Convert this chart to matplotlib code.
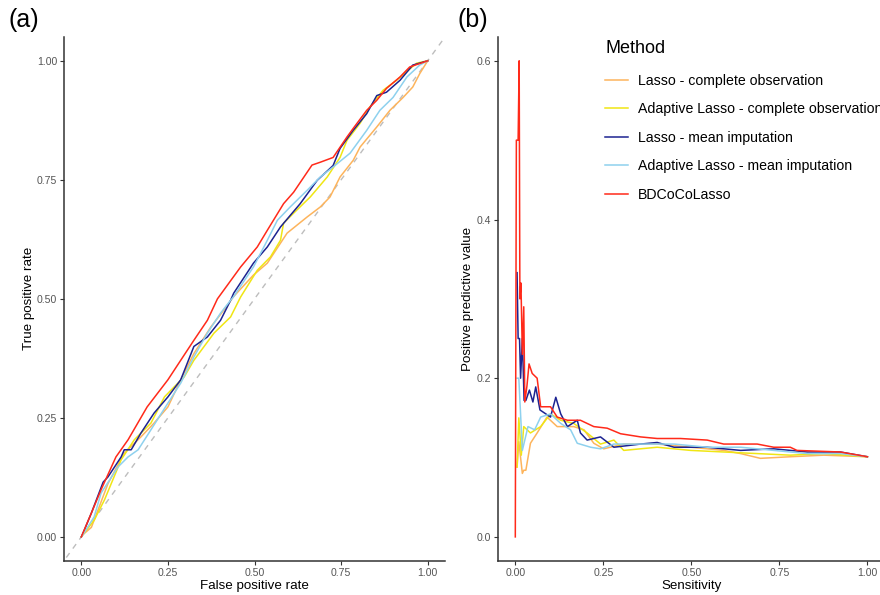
import matplotlib
matplotlib.use("Agg")
import matplotlib.pyplot as plt
import numpy as np

plt.rcParams['font.family'] = ['Liberation Sans', 'DejaVu Sans']

methods = ["Lasso - complete observation",
           "Adaptive Lasso - complete observation",
           "Lasso - mean imputation",
           "Adaptive Lasso - mean imputation",
           "BDCoCoLasso"]
colors = ["#FDB45C", "#F0E614", "#1C2391", "#8ED1EE", "#FF2A1A"]

# ROC curves (FPR, TPR)
roc_lasso_cc_x = [0, 0.005, 0.029, 0.048, 0.077, 0.124, 0.172, 0.21, 0.25, 0.287, 0.325, 0.374, 0.411, 0.44, 0.497, 0.537, 0.594, 0.652, 0.69, 0.718, 0.747, 0.785, 0.805, 0.853, 0.891, 0.929, 0.957, 0.977, 1.0]
roc_lasso_cc_y = [0, 0.005, 0.02, 0.056, 0.112, 0.176, 0.21, 0.239, 0.273, 0.33, 0.385, 0.441, 0.476, 0.505, 0.55, 0.575, 0.638, 0.672, 0.693, 0.714, 0.756, 0.791, 0.819, 0.861, 0.896, 0.923, 0.945, 0.973, 1.0]

roc_alasso_cc_x = [0, 0.005, 0.037, 0.067, 0.115, 0.153, 0.201, 0.24, 0.268, 0.297, 0.325, 0.383, 0.431, 0.451, 0.46, 0.508, 0.546, 0.575, 0.584, 0.613, 0.661, 0.71, 0.747, 0.767, 0.805, 0.833, 0.871, 0.91, 0.968, 1.0]
roc_alasso_cc_y = [0, 0.005, 0.035, 0.078, 0.162, 0.204, 0.239, 0.294, 0.315, 0.336, 0.371, 0.428, 0.462, 0.491, 0.504, 0.56, 0.588, 0.623, 0.659, 0.68, 0.714, 0.756, 0.797, 0.833, 0.869, 0.903, 0.938, 0.959, 0.995, 1.0]

roc_lasso_mi_x = [0, 0.005, 0.029, 0.063, 0.077, 0.115, 0.124, 0.144, 0.172, 0.21, 0.25, 0.287, 0.325, 0.364, 0.402, 0.431, 0.44, 0.497, 0.537, 0.575, 0.632, 0.681, 0.727, 0.747, 0.785, 0.824, 0.853, 0.881, 0.92, 0.957, 1.0]
roc_lasso_mi_y = [0, 0.008, 0.05, 0.115, 0.126, 0.168, 0.183, 0.183, 0.218, 0.26, 0.294, 0.33, 0.4, 0.42, 0.455, 0.497, 0.512, 0.575, 0.609, 0.651, 0.70, 0.749, 0.78, 0.816, 0.854, 0.889, 0.927, 0.934, 0.959, 0.991, 1.0]

roc_alasso_mi_x = [0, 0.005, 0.037, 0.057, 0.106, 0.135, 0.164, 0.201, 0.25, 0.287, 0.325, 0.364, 0.402, 0.431, 0.44, 0.497, 0.537, 0.566, 0.603, 0.652, 0.69, 0.727, 0.776, 0.824, 0.862, 0.90, 0.94, 0.977, 1.0]
roc_alasso_mi_y = [0, 0.005, 0.042, 0.092, 0.147, 0.168, 0.183, 0.225, 0.281, 0.323, 0.378, 0.428, 0.47, 0.497, 0.505, 0.567, 0.623, 0.665, 0.693, 0.728, 0.756, 0.777, 0.806, 0.854, 0.896, 0.923, 0.966, 0.991, 1.0]

roc_bdcoco_x = [0, 0.029, 0.057, 0.10, 0.135, 0.19, 0.25, 0.287, 0.325, 0.364, 0.393, 0.46, 0.508, 0.537, 0.584, 0.613, 0.666, 0.69, 0.727, 0.767, 0.785, 0.824, 0.853, 0.881, 0.92, 0.948, 1.0]
roc_bdcoco_y = [0, 0.05, 0.099, 0.168, 0.204, 0.273, 0.33, 0.371, 0.413, 0.455, 0.50, 0.567, 0.609, 0.644, 0.70, 0.724, 0.781, 0.787, 0.797, 0.84, 0.858, 0.896, 0.917, 0.942, 0.966, 0.987, 1.0]

# Precision-recall curves (Sensitivity, PPV)
pr_lasso_cc_x = [0.005, 0.01, 0.02, 0.024, 0.03, 0.043, 0.062, 0.09, 0.119, 0.166, 0.195, 0.223, 0.251, 0.308, 0.403, 0.498, 0.592, 0.64, 0.696, 0.781, 0.876, 1.0]
pr_lasso_cc_y = [0.088, 0.12, 0.08, 0.084, 0.084, 0.118, 0.131, 0.151, 0.139, 0.139, 0.135, 0.118, 0.111, 0.117, 0.117, 0.113, 0.109, 0.105, 0.099, 0.101, 0.103, 0.101]

pr_alasso_cc_x = [0.005, 0.01, 0.017, 0.024, 0.043, 0.072, 0.1, 0.129, 0.166, 0.204, 0.242, 0.28, 0.308, 0.403, 0.498, 0.592, 0.687, 0.781, 0.876, 1.0]
pr_alasso_cc_y = [0.088, 0.15, 0.103, 0.139, 0.131, 0.139, 0.155, 0.147, 0.143, 0.131, 0.117, 0.122, 0.109, 0.113, 0.109, 0.107, 0.105, 0.103, 0.105, 0.101]

pr_lasso_mi_x = [0.005, 0.008, 0.012, 0.015, 0.02, 0.025, 0.03, 0.04, 0.05, 0.058, 0.07, 0.1, 0.115, 0.129, 0.148, 0.176, 0.185, 0.204, 0.242, 0.28, 0.356, 0.403, 0.451, 0.545, 0.64, 0.734, 0.829, 0.923, 1.0]
pr_lasso_mi_y = [0.333, 0.25, 0.25, 0.20, 0.25, 0.172, 0.172, 0.185, 0.17, 0.189, 0.16, 0.151, 0.176, 0.155, 0.139, 0.147, 0.131, 0.122, 0.126, 0.113, 0.117, 0.119, 0.113, 0.113, 0.109, 0.111, 0.107, 0.107, 0.101]

pr_alasso_mi_x = [0.005, 0.01, 0.02, 0.036, 0.055, 0.072, 0.1, 0.129, 0.157, 0.176, 0.214, 0.242, 0.28, 0.356, 0.451, 0.545, 0.64, 0.734, 0.829, 0.923, 1.0]
pr_alasso_mi_y = [0.20, 0.20, 0.109, 0.139, 0.135, 0.151, 0.155, 0.143, 0.135, 0.118, 0.113, 0.111, 0.117, 0.117, 0.117, 0.113, 0.113, 0.109, 0.105, 0.105, 0.101]

pr_bdcoco_x = [0.0, 0.003, 0.008, 0.011, 0.013, 0.016, 0.02, 0.024, 0.027, 0.033, 0.039, 0.048, 0.062, 0.072, 0.1, 0.119, 0.148, 0.185, 0.223, 0.261, 0.299, 0.356, 0.403, 0.469, 0.545, 0.592, 0.687, 0.734, 0.781, 0.8, 0.923, 1.0]
pr_bdcoco_y = [0.0, 0.5, 0.5, 0.6, 0.30, 0.32, 0.23, 0.29, 0.17, 0.19, 0.218, 0.206, 0.20, 0.164, 0.164, 0.151, 0.147, 0.147, 0.139, 0.137, 0.13, 0.126, 0.124, 0.124, 0.122, 0.117, 0.117, 0.113, 0.113, 0.109, 0.107, 0.101]

x_ticks = [0.0, 0.25, 0.5, 0.75, 1.0]
x_tick_labels = ["0.00", "0.25", "0.50", "0.75", "1.00"]
roc_y_ticks = [0.0, 0.25, 0.5, 0.75, 1.0]
roc_y_tick_labels = ["0.00", "0.25", "0.50", "0.75", "1.00"]
pr_y_ticks = [0.0, 0.2, 0.4, 0.6]
pr_y_tick_labels = ["0.0", "0.2", "0.4", "0.6"]

roc_x = [roc_lasso_cc_x, roc_alasso_cc_x, roc_lasso_mi_x, roc_alasso_mi_x, roc_bdcoco_x]
roc_y = [roc_lasso_cc_y, roc_alasso_cc_y, roc_lasso_mi_y, roc_alasso_mi_y, roc_bdcoco_y]
pr_x = [pr_lasso_cc_x, pr_alasso_cc_x, pr_lasso_mi_x, pr_alasso_mi_x, pr_bdcoco_x]
pr_y = [pr_lasso_cc_y, pr_alasso_cc_y, pr_lasso_mi_y, pr_alasso_mi_y, pr_bdcoco_y]

W, H = 880, 595
fig = plt.figure(figsize=(W / 100, H / 100), dpi=100)

def px_axes(l, t, r, b):
    return fig.add_axes([l / W, 1 - b / H, (r - l) / W, (b - t) / H])

ax1 = px_axes(64, 37, 445, 560.7)
ax2 = px_axes(497.7, 37, 885, 560.7)

def style(ax):
    for s in ["top", "right"]:
        ax.spines[s].set_visible(False)
    for s in ["left", "bottom"]:
        ax.spines[s].set_color("#333333")
        ax.spines[s].set_linewidth(1.1)
    ax.tick_params(axis="both", colors="#333333", labelcolor="#555555",
                   labelsize=7.6, length=3, width=0.8, pad=2)

# Panel a
ax1.plot([-0.1, 1.1], [-0.1, 1.1], linestyle=(0, (4, 4)), color="#BDBDBD", lw=1.0, zorder=1)
for xs, ys, c in zip(roc_x, roc_y, colors):
    ax1.plot(xs, ys, color=c, lw=1.1, zorder=2)
ax1.set_xlim(-0.05, 1.05)
ax1.set_ylim(-0.05, 1.05)
ax1.set_xticks(x_ticks, x_tick_labels)
ax1.set_yticks(roc_y_ticks, roc_y_tick_labels)
ax1.set_xlabel("False positive rate", fontsize=9.6, labelpad=2)
ax1.set_ylabel("True positive rate", fontsize=9.6, labelpad=1.5)
style(ax1)

# Panel b
lines = []
for xs, ys, c, m in zip(pr_x, pr_y, colors, methods):
    ln, = ax2.plot(xs, ys, color=c, lw=1.1, label=m)
    lines.append(ln)
ax2.set_xlim(-0.05, 1.05)
ax2.set_ylim(-0.03, 0.63)
ax2.set_xticks(x_ticks, x_tick_labels)
ax2.set_yticks(pr_y_ticks, pr_y_tick_labels)
ax2.set_xlabel("Sensitivity", fontsize=9.6, labelpad=2)
ax2.set_ylabel("Positive predictive value", fontsize=9.6, labelpad=1.5)
style(ax2)

leg = fig.legend(handles=lines, labels=methods, loc="upper left",
                 bbox_to_anchor=(605 / W, 1 - 40 / H), frameon=False,
                 fontsize=10.2, title="Method", title_fontsize=13,
                 handlelength=1.62, handletextpad=0.7, labelspacing=1.03,
                 borderaxespad=0, borderpad=0)
leg._legend_box.align = "left"
leg._legend_box.sep = 12

fig.text(8 / W, 1 - 20 / H, "(a)", fontsize=18, va="center", ha="left")
fig.text(457 / W, 1 - 20 / H, "(b)", fontsize=18, va="center", ha="left")

fig.savefig("out.png", dpi=100)
